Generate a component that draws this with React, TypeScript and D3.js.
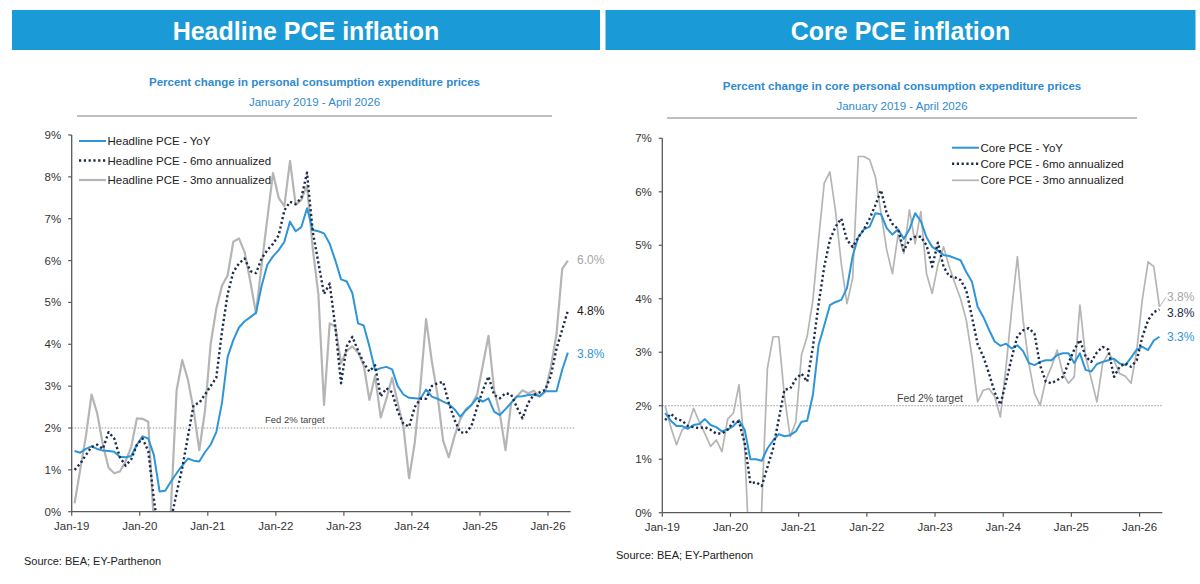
import * as d3 from 'd3';

// Monthly points, Jan-19 .. Apr-26 (88 months)
const yearLabels = ['Jan-19', 'Jan-20', 'Jan-21', 'Jan-22', 'Jan-23', 'Jan-24', 'Jan-25', 'Jan-26'];

const headlineYoY = [
  1.45, 1.41, 1.5, 1.56, 1.5, 1.46, 1.45, 1.43, 1.31, 1.3, 1.33, 1.6,
  1.8, 1.75, 1.35, 0.48, 0.5, 0.72, 0.92, 1.1, 1.27, 1.22, 1.2, 1.42,
  1.6, 1.9, 2.6, 3.7, 4.1, 4.4, 4.55, 4.65, 4.75, 5.4, 5.9, 6.1,
  6.25, 6.45, 6.93, 6.7, 6.8, 7.25, 6.73, 6.7, 6.65, 6.4, 6.0, 5.55,
  5.5, 5.22, 4.5, 4.45, 3.95, 3.38, 3.43, 3.46, 3.4, 3.0, 2.8, 2.72,
  2.71, 2.7, 2.92, 2.75, 2.7, 2.63, 2.57, 2.45, 2.27, 2.42, 2.55, 2.72,
  2.63, 2.71, 2.39, 2.31, 2.45, 2.6, 2.75, 2.76, 2.79, 2.8, 2.76, 2.88,
  2.88, 2.88, 3.39, 3.8,
];
const headline6mo = [
  1.0, 1.15, 1.35, 1.55, 1.6, 1.5, 1.9, 1.75, 1.3, 1.1, 1.25, 1.6,
  1.75, 1.45, 0.3, -0.7, -0.6, -0.2, 0.45, 1.05, 1.8, 2.55, 2.6, 2.8,
  3.0, 3.2, 4.3, 5.2, 5.73, 5.93, 6.05, 5.75, 5.7, 6.05, 6.25, 6.4,
  6.6, 7.2, 7.4, 7.35, 7.5, 8.1, 6.7, 5.95, 5.2, 5.45, 4.4, 3.07,
  3.95, 4.18, 3.85, 3.55, 3.35, 3.5, 2.75, 2.95, 2.85, 2.4, 2.1, 2.03,
  2.5, 2.7, 2.7, 3.0, 3.07, 3.1, 2.6, 2.2, 1.9, 1.88, 2.05, 2.5,
  2.9, 3.23, 2.79, 2.71, 2.83, 2.8, 2.5, 2.23, 2.6, 2.79, 2.85, 2.91,
  3.25, 3.9, 4.35, 4.8,
];
const headline3mo = [
  0.2, 1.0, 1.8, 2.8, 2.35, 1.6, 1.05, 0.92, 0.96, 1.2, 1.55, 2.23,
  2.22, 2.15, -0.3, -5.0, -3.5, 0.1, 2.9, 3.62, 3.15, 2.43, 1.47, 2.4,
  4.0, 4.85, 5.4, 5.65, 6.45, 6.53, 6.2, 5.5, 4.74, 5.9, 7.0, 8.09,
  7.5, 7.3, 8.38, 7.33, 7.45, 7.8, 6.3, 5.2, 2.55, 4.5, 4.42, 3.55,
  3.85, 3.95, 3.8, 3.5, 2.67, 3.25, 2.25, 2.7, 3.2, 2.6, 2.03, 0.8,
  1.65, 3.0, 4.6, 3.6, 2.8, 1.7, 1.3, 1.8, 2.2, 2.45, 2.55, 2.8,
  3.5, 4.2, 2.9, 2.35, 1.47, 2.6, 2.75, 2.9, 2.83, 2.89, 2.75, 2.87,
  3.45, 4.25, 5.8, 6.0,
];

const coreYoY = [
  1.86, 1.72, 1.62, 1.62, 1.57, 1.64, 1.66, 1.75, 1.64, 1.6, 1.52, 1.56,
  1.62, 1.73, 1.55, 1.0, 1.0, 0.97, 1.2, 1.35, 1.47, 1.43, 1.45, 1.52,
  1.7, 1.72, 2.2, 3.13, 3.5, 3.88, 3.94, 3.98, 4.2, 4.8, 5.15, 5.3,
  5.35, 5.6, 5.58, 5.32, 5.2, 5.3, 5.12, 5.3, 5.6, 5.45, 5.15, 4.97,
  4.9, 4.82, 4.8, 4.76, 4.72, 4.5, 4.32, 3.85, 3.66, 3.42, 3.2, 3.12,
  3.16, 3.07, 3.13, 3.02, 2.8, 2.76, 2.82, 2.85, 2.85, 2.95, 2.98, 2.98,
  2.8, 2.98, 2.67, 2.64, 2.78, 2.82, 2.85, 2.88, 2.79, 2.76, 2.9, 3.05,
  3.1, 3.04, 3.22, 3.29,
];
const core6mo = [
  1.73, 1.85, 1.75, 1.72, 1.62, 1.6, 1.58, 1.6, 1.55, 1.48, 1.48, 1.55,
  1.7, 1.7, 1.3, 0.55, 0.57, 0.5, 0.85, 1.2, 1.75, 2.3, 2.32, 2.5,
  2.6, 2.45, 3.1, 3.9, 4.6, 5.1, 5.35, 5.5, 5.1, 4.97, 5.15, 5.3,
  5.5, 5.75, 6.03, 5.6, 5.4, 5.3, 4.9, 5.1, 5.16, 5.16, 5.0, 4.6,
  5.05, 4.6, 4.42, 4.4, 4.35, 4.16, 3.66, 3.15, 2.92, 2.6, 2.25, 2.02,
  2.45, 2.9, 3.3, 3.41, 3.45, 3.35, 2.75, 2.45, 2.42, 2.48, 2.54, 2.8,
  3.05, 3.23, 2.92, 2.82, 3.0, 3.1, 3.05, 2.54, 2.73, 2.79, 2.73, 2.85,
  3.29, 3.6, 3.75, 3.8,
];
const core3mo = [
  2.0, 1.6, 1.27, 1.55, 1.62, 1.95, 1.7, 1.48, 1.24, 1.36, 1.14, 1.75,
  1.86, 2.39, 1.2, -1.2, -3.0, 0.1, 2.7, 3.29, 3.29, 2.17, 1.42, 1.7,
  2.95, 3.3, 3.97, 5.1, 6.16, 6.37, 5.63, 4.66, 3.91, 4.38, 6.66, 6.66,
  6.6, 6.28, 5.6, 4.91, 4.47, 5.2, 4.85, 5.66, 5.03, 5.63, 4.47, 4.1,
  4.63, 4.97, 4.6, 4.29, 4.0, 3.6, 2.92, 2.07, 2.29, 2.32, 2.17, 1.79,
  2.73, 3.8, 4.79, 3.6, 2.8, 2.23, 2.01, 2.48, 2.73, 3.04, 2.6, 2.42,
  2.54, 3.88, 2.92, 2.5, 2.07, 2.79, 2.98, 2.85, 2.6, 2.55, 2.42, 3.04,
  4.0, 4.69, 4.6, 3.85,
];

const BLUE = '#2e96d8';
const NAVY = '#1c2b4a';
const GRAY = '#b5b5b5';
const HEADER = '#1a9bd7';
const SUB = '#2f8ad0';
const FONT = '"Liberation Sans", Arial, sans-serif';

type LineSpec = {
  key: string;
  values: number[];
  color: string;
  width: number;
  dash?: string;
  legend: string;
  endLabel: string;
  endColor: string;
  endDy: number;
};

type PanelProps = {
  id: string;
  boxX: number;
  boxW: number;
  title: string;
  subtitle: string;
  subY: number;
  ruleX: [number, number];
  ruleY: number;
  x0: number;
  x1: number;
  yTop: number;
  yBottom: number;
  yMax: number;
  lines: LineSpec[];
  legendX: number;
  legendRows: number[];
  fedLabelX: number;
  fedLabelSize: number;
  fedExtra: number;
  sourceX: number;
  sourceY: number;
  endX: number;
  leader?: boolean;
};

const Panel = (p: PanelProps) => {
  const x = d3.scaleLinear().domain([0, 88]).range([p.x0, p.x1]);
  const y = d3.scaleLinear().domain([0, p.yMax]).range([p.yBottom, p.yTop]);
  const line = d3
    .line<number>()
    .x((_, i) => x(i + 0.5))
    .y((d) => y(d));
  const yTicks = d3.range(0, p.yMax + 1);
  const cx = p.boxX + p.boxW / 2;
  const subCx = (p.ruleX[0] + p.ruleX[1]) / 2;
  const drawOrder = [p.lines[2], p.lines[0], p.lines[1]];

  return (
    <g>
      <rect x={p.boxX} y={10} width={p.boxW} height={40} fill={HEADER} />
      <text x={cx} y={31} fill="#fff" fontSize={25} fontWeight="bold" textAnchor="middle" dominantBaseline="central">
        {p.title}
      </text>
      <text x={subCx} y={p.subY} fill={SUB} fontSize={11.5} fontWeight="bold" textAnchor="middle" dominantBaseline="central">
        {p.subtitle}
      </text>
      <text x={subCx} y={p.subY + 20} fill={SUB} fontSize={11.5} textAnchor="middle" dominantBaseline="central">
        January 2019 - April 2026
      </text>
      <line x1={p.ruleX[0]} x2={p.ruleX[1]} y1={p.ruleY} y2={p.ruleY} stroke="#a8a8a8" strokeWidth={1.5} />

      <defs>
        <clipPath id={`clip-${p.id}`}>
          <rect x={p.x0} y={p.yTop - 20} width={p.x1 - p.x0 + 20} height={p.yBottom - p.yTop + 20} />
        </clipPath>
      </defs>

      {/* Fed target */}
      <line
        x1={p.x0}
        x2={p.x1 + p.fedExtra}
        y1={y(2)}
        y2={y(2)}
        stroke="#7a7a7a"
        strokeWidth={0.8}
        strokeDasharray="1.5 1.5"
      />
      <text x={p.fedLabelX} y={y(2) - 8} fill="#444" fontSize={p.fedLabelSize} dominantBaseline="central">
        Fed 2% target
      </text>

      <g clipPath={`url(#clip-${p.id})`}>
        {drawOrder.map((s) => (
          <path
            key={s.key}
            d={line(s.values) ?? ''}
            fill="none"
            stroke={s.color}
            strokeWidth={s.width}
            strokeDasharray={s.dash}
            strokeLinejoin="round"
          />
        ))}
      </g>

      {/* axes */}
      <line x1={p.x0} x2={p.x0} y1={p.yTop} y2={p.yBottom} stroke="#595959" strokeWidth={1.3} />
      <line x1={p.x0} x2={p.x1} y1={p.yBottom} y2={p.yBottom} stroke="#595959" strokeWidth={1.3} />
      {yTicks.map((t) => (
        <g key={t}>
          <line x1={p.x0 - 3.5} x2={p.x0} y1={y(t)} y2={y(t)} stroke="#595959" strokeWidth={1.2} />
          <text x={p.x0 - 10.5} y={y(t)} fill="#333" fontSize={11.5} textAnchor="end" dominantBaseline="central">
            {t}%
          </text>
        </g>
      ))}
      {yearLabels.map((lab, k) => (
        <g key={lab}>
          <line x1={x(k * 12)} x2={x(k * 12)} y1={p.yBottom} y2={p.yBottom + 4} stroke="#595959" strokeWidth={1.2} />
          <text x={x(k * 12)} y={p.yBottom + 14} fill="#333" fontSize={11.5} textAnchor="middle" dominantBaseline="central">
            {lab}
          </text>
        </g>
      ))}

      {/* legend */}
      {p.lines.map((s, k) => (
        <g key={s.key}>
          <line
            x1={p.legendX}
            x2={p.legendX + 27}
            y1={p.legendRows[k]}
            y2={p.legendRows[k]}
            stroke={s.color}
            strokeWidth={s.width}
            strokeDasharray={s.dash}
          />
          <text x={p.legendX + 28.5} y={p.legendRows[k]} fill="#222" fontSize={11.5} dominantBaseline="central">
            {s.legend}
          </text>
        </g>
      ))}

      {/* end labels */}
      {p.lines.map((s) => {
        const last = s.values[s.values.length - 1];
        return (
          <text
            key={s.key}
            x={p.endX}
            y={y(last) + s.endDy}
            fill={s.endColor}
            fontSize={12}
            dominantBaseline="central"
          >
            {s.endLabel}
          </text>
        );
      })}
      {p.leader && (
        <line
          x1={x(87.5)}
          x2={p.endX - 1}
          y1={y(p.lines[2].values[87])}
          y2={y(p.lines[2].values[87]) + p.lines[2].endDy}
          stroke={GRAY}
          strokeWidth={1}
        />
      )}

      <text x={p.sourceX} y={p.sourceY} fill="#222" fontSize={11} dominantBaseline="central">
        Source: BEA; EY-Parthenon
      </text>
    </g>
  );
};

export default function App() {
  const headlineLines: LineSpec[] = [
    { key: 'yoy', values: headlineYoY, color: BLUE, width: 2, legend: 'Headline PCE - YoY', endLabel: '3.8%', endColor: BLUE, endDy: 1 },
    { key: 'six', values: headline6mo, color: NAVY, width: 2.4, dash: '2.2 2.6', legend: 'Headline PCE - 6mo annualized', endLabel: '4.8%', endColor: '#1a1a1a', endDy: 0 },
    { key: 'three', values: headline3mo, color: GRAY, width: 2.2, legend: 'Headline PCE - 3mo annualized', endLabel: '6.0%', endColor: '#a6a6a6', endDy: -1 },
  ];
  const coreLines: LineSpec[] = [
    { key: 'yoy', values: coreYoY, color: BLUE, width: 2, legend: 'Core PCE - YoY', endLabel: '3.3%', endColor: BLUE, endDy: 0 },
    { key: 'six', values: core6mo, color: NAVY, width: 2.4, dash: '2.2 2.6', legend: 'Core PCE - 6mo annualized', endLabel: '3.8%', endColor: NAVY, endDy: 3.6 },
    { key: 'three', values: core3mo, color: GRAY, width: 1.7, legend: 'Core PCE - 3mo annualized', endLabel: '3.8%', endColor: '#a6a6a6', endDy: -9.5 },
  ];

  return (
    <svg
      width={1200}
      height={584}
      style={{ position: 'absolute', left: 0, top: 0, fontFamily: FONT, background: '#fff' }}
    >
      <rect width={1200} height={584} fill="#fff" />
      <Panel
        id="headline"
        boxX={12}
        boxW={588}
        title="Headline PCE inflation"
        subtitle="Percent change in personal consumption expenditure prices"
        subY={81.5}
        ruleX={[77, 552]}
        ruleY={116}
        x0={71.7}
        x1={570.7}
        yTop={135}
        yBottom={511.7}
        yMax={9}
        lines={headlineLines}
        legendX={79}
        legendRows={[141, 160.5, 180]}
        fedLabelX={265}
        fedLabelSize={9.5}
        fedExtra={4}
        sourceX={24}
        sourceY={561}
        endX={577}
      />
      <Panel
        id="core"
        boxX={605.5}
        boxW={590}
        title="Core PCE inflation"
        subtitle="Percent change in core personal consumption expenditure prices"
        subY={86}
        ruleX={[667, 1137]}
        ruleY={118}
        x0={662.3}
        x1={1162.3}
        yTop={138.3}
        yBottom={512.7}
        yMax={7}
        lines={coreLines}
        legendX={952}
        legendRows={[147.7, 163.7, 180.3]}
        fedLabelX={897}
        fedLabelSize={10.5}
        fedExtra={0}
        sourceX={616}
        sourceY={555}
        endX={1167}
        leader
      />
    </svg>
  );
}
